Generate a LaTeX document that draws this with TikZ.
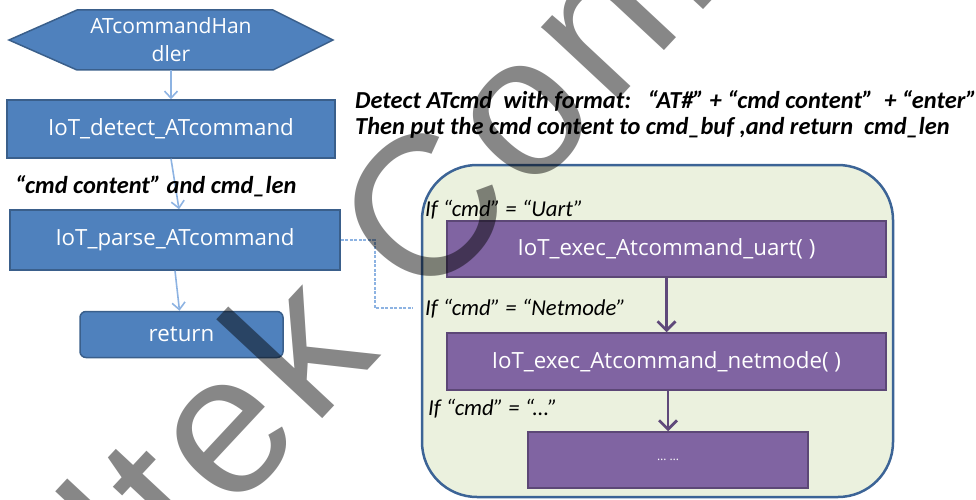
\documentclass[tikz,border=0pt]{standalone}
\usepackage{fontspec}
\setmainfont{Carlito}
\newfontfamily\boxfont{Open Sans}
\newfontfamily\wmfont[LetterSpace=4]{Liberation Sans}
\usetikzlibrary{arrows.meta}
\definecolor{bfill}{HTML}{4F81BD}
\definecolor{bline}{HTML}{3A5F8B}
\definecolor{pfill}{HTML}{8064A2}
\definecolor{pline}{HTML}{5C4776}
\definecolor{gfill}{HTML}{EBF1DE}
\definecolor{cline}{HTML}{3C6496}
\definecolor{larrow}{HTML}{8DB3E2}
\definecolor{parrow}{HTML}{5F497A}
\begin{document}
\begin{tikzpicture}[x=1pt,y=-1pt,
  bluebox/.style={draw=bline, fill=bfill, line width=1.5pt, text=white,
    font=\boxfont\fontsize{22.3}{28}\selectfont, inner sep=0pt},
  purplebox/.style={draw=pline, fill=pfill, line width=1.5pt, text=white,
    font=\boxfont\fontsize{22.3}{28}\selectfont, inner sep=0pt},
  lightarrow/.style={draw=larrow, line width=1.6pt, -{Straight Barb[length=7pt,width=13pt]}},
  darkarrow/.style={draw=parrow, line width=2.8pt, -{Straight Barb[length=9pt,width=18pt]}},
  cond/.style={font=\itshape\fontsize{22.7}{26}\selectfont, anchor=west, inner sep=0pt},
  note/.style={font=\bfseries\itshape\fontsize{24.4}{28}\selectfont, anchor=west, inner sep=0pt},
  linkline/.style={draw=larrow, line width=1.8pt, dash pattern=on 3pt off 1.5pt},
]
\useasboundingbox (0,0) rectangle (976,500);
\begin{scope}
\clip (0,0) rectangle (976,500);

% left column
\fill[bfill, draw=bline, line width=1.5pt] (9,40) -- (77,10) -- (273,10) -- (333,40) -- (273,70) -- (77,70) -- cycle;
\node[text=white, font=\boxfont\fontsize{21}{28}\selectfont, align=center,
      minimum width=324pt, minimum height=60pt, inner sep=0pt] (hex) at (171,40) {ATcommandHan\\dler};
\node[bluebox, minimum width=328pt, minimum height=58pt] (detect) at (171,129) {IoT\_detect\_ATcommand};
\node[bluebox, minimum width=330pt, minimum height=60pt] (parse) at (175,240) {IoT\_parse\_ATcommand};
\node[bluebox, rounded corners=6pt, minimum width=203pt, minimum height=46pt] (ret) at (181.5,334.5) {return};

\draw[lightarrow] (hex.south) -- (detect.north);
\draw[lightarrow] (detect.south) -- ([xshift=4pt]parse.north);
\draw[lightarrow] ([xshift=0pt]parse.south) -- ([xshift=-2pt]ret.north);

\node[note] (lbl) at (15,186) {“cmd content” and cmd\_len};

\node[note] (desc1) at (355,101) {Detect ATcmd\ \ with format:\ \ \ “AT\#” + “cmd content”\ \ + “enter”};
\node[note] (desc2) at (355,128) {Then put the cmd content to cmd\_buf ,and return\ \ cmd\_len};

% right container
\node[draw=cline, fill=gfill, line width=2.5pt, rounded corners=55pt,
      minimum width=471pt, minimum height=332pt, inner sep=0pt] (cont) at (657.5,331) {};

\node[cond] (c1) at (425,210) {If “cmd” = “Uart”};
\node[purplebox, minimum width=439pt, minimum height=56pt] (u1) at (666.5,249) {IoT\_exec\_Atcommand\_uart( )};
\node[cond] (c2) at (425,309) {If “cmd” = “Netmode”};
\node[purplebox, minimum width=439pt, minimum height=57pt] (u2) at (666.5,361.5) {IoT\_exec\_Atcommand\_netmode( )};
\node[cond] (c3) at (428,409) {If “cmd” = “...”};
\node[purplebox, minimum width=280pt, minimum height=56pt, font=\boxfont\fontsize{12}{14}\selectfont] (u3) at (668,460) {… …};

\draw[darkarrow] (u1.south) -- (u2.north);
\draw[darkarrow] ([xshift=1.5pt]u2.south) -- (u3.north);

\coordinate (linkend) at (413,308);
\draw[linkline] (parse.east) -| (375,308) -- (linkend);

% watermark
\node[anchor=base west, inner sep=0pt, rotate=47, text=black, opacity=0.47,
      font=\wmfont\fontsize{200}{200}\selectfont] (wm) at (-114,886) {Realtek Confidential};
\end{scope}
\end{tikzpicture}
\end{document}
